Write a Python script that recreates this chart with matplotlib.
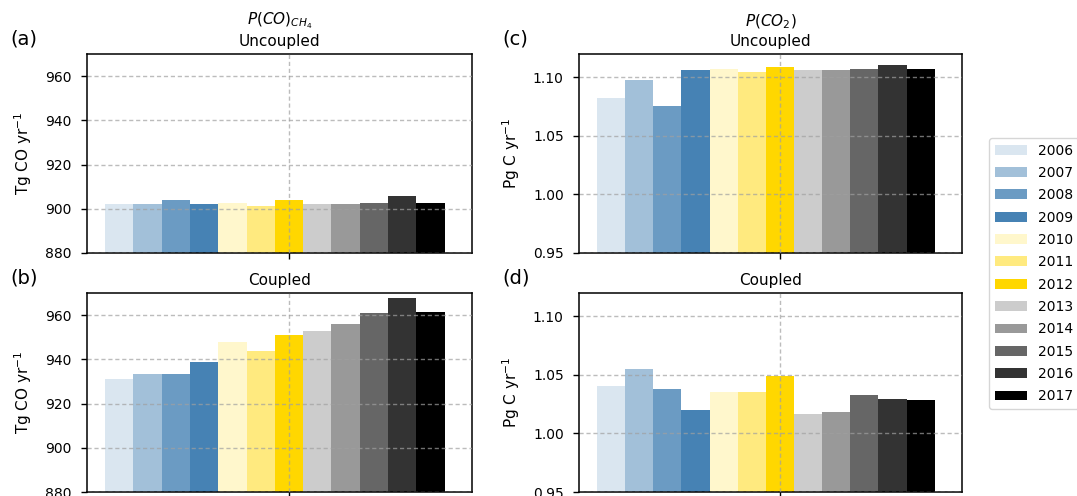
import numpy as np
import matplotlib
matplotlib.use('Agg')
import matplotlib.pyplot as plt

years = [str(y) for y in range(2006, 2018)]

# P(CO)_CH4, Tg CO / yr
co_uncoupled = [902.0, 902.0, 903.9, 902.0, 902.6, 901.4, 903.9, 902.0, 902.0, 902.6, 905.7, 902.6]
co_coupled = [931.0, 933.5, 933.5, 938.7, 947.7, 943.8, 950.9, 952.9, 956.1, 960.8, 967.6, 961.4]

# P(CO2), Pg C / yr
co2_uncoupled = [1.082, 1.0977, 1.076, 1.1062, 1.107, 1.105, 1.1085, 1.106, 1.106, 1.107, 1.111, 1.107]
co2_coupled = [1.0407, 1.0548, 1.0378, 1.0201, 1.0355, 1.0355, 1.0489, 1.0167, 1.018, 1.033, 1.0294, 1.0285]

# colours: steelblue / gold / black at varying alpha
base_colors = ['steelblue'] * 4 + ['gold'] * 3 + ['black'] * 5
alphas = [0.2, 0.5, 0.8, 1.0, 0.2, 0.5, 1.0, 0.2, 0.4, 0.6, 0.8, 1.0]

W, H = 1077, 496
fig = plt.figure(figsize=(W / 100, H / 100), dpi=100)


def px_axes(left, top, right, bottom):
    return fig.add_axes([left / W, 1 - bottom / H, (right - left) / W, (bottom - top) / H])


ax_a = px_axes(87, 54, 472, 253)
ax_b = px_axes(87, 293, 472, 492)
ax_c = px_axes(579, 54, 962, 253)
ax_d = px_axes(579, 293, 962, 492)

w = 0.07
pos = (np.arange(12) - 6) * w


def draw(ax, values, ylim, yticks, ylabel, title):
    bars = []
    for i in range(12):
        b = ax.bar(pos[i], values[i], width=w, color=base_colors[i], alpha=alphas[i],
                   label=years[i])
        bars.append(b)
    ax.set_xlim(-0.5, 0.453)
    ax.set_ylim(*ylim)
    ax.set_yticks(yticks)
    ax.set_xticks([0])
    ax.set_xticklabels([''])
    ax.grid(True, linestyle=(0, (3, 2)), color='#a0a0a0', alpha=0.7, linewidth=1)
    ax.set_axisbelow(False)
    ax.tick_params(labelsize=10, length=4, pad=7, width=1)
    ax.set_ylabel(ylabel, fontsize=11, labelpad=8)
    ax.set_title(title, fontsize=11)
    for s in ax.spines.values():
        s.set_linewidth(1.1)
    return bars


bars = draw(ax_a, co_uncoupled, (880, 970), [880, 900, 920, 940, 960],
            'Tg CO yr$^{-1}$', '$P(CO)_{CH_4}$\nUncoupled')
draw(ax_b, co_coupled, (880, 970), [880, 900, 920, 940, 960],
     'Tg CO yr$^{-1}$', 'Coupled')
draw(ax_c, co2_uncoupled, (0.95, 1.12), [0.95, 1.00, 1.05, 1.10],
     'Pg C yr$^{-1}$', '$P(CO_2)$\nUncoupled')
draw(ax_d, co2_coupled, (0.95, 1.12), [0.95, 1.00, 1.05, 1.10],
     'Pg C yr$^{-1}$', 'Coupled')

for ax in (ax_c, ax_d):
    ax.yaxis.set_major_formatter(matplotlib.ticker.FormatStrFormatter('%.2f'))

fig.text(10 / W, 1 - 39 / H, '(a)', fontsize=14, va='center')
fig.text(10 / W, 1 - 278 / H, '(b)', fontsize=14, va='center')
fig.text(502 / W, 1 - 39 / H, '(c)', fontsize=14, va='center')
fig.text(502 / W, 1 - 278 / H, '(d)', fontsize=14, va='center')

fig.legend(handles=bars, labels=years, loc='upper left',
           bbox_to_anchor=(989 / W, 1 - 138 / H), borderaxespad=0,
           fontsize=10, handlelength=2.3, labelspacing=0.6)

fig.savefig('out.png', dpi=100)
